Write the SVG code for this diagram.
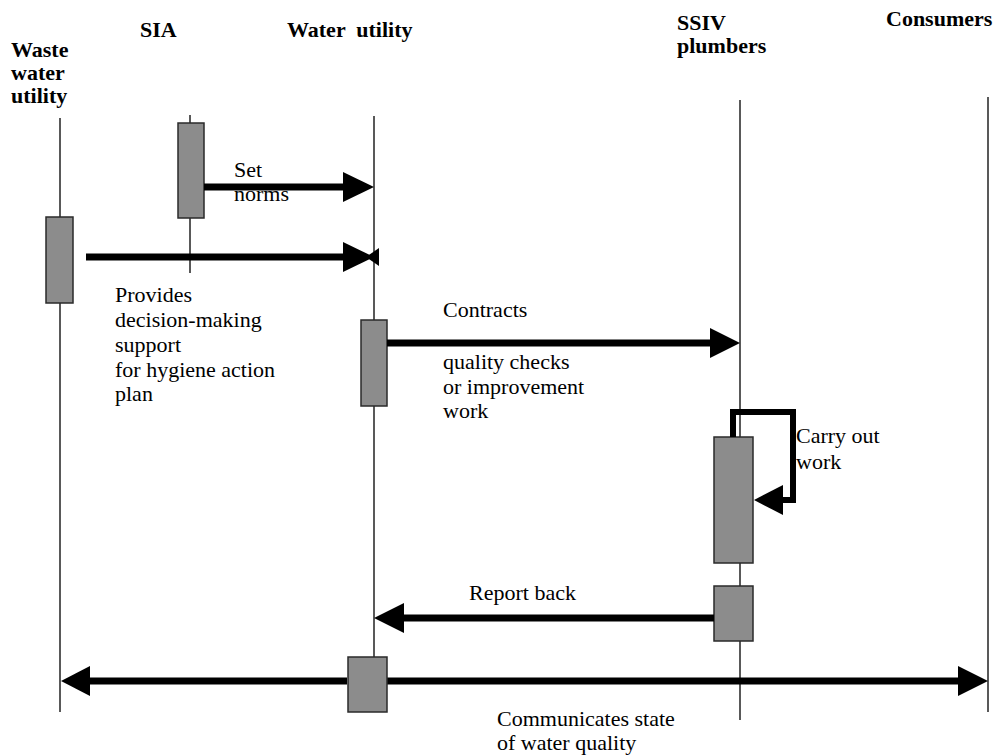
<svg xmlns="http://www.w3.org/2000/svg" width="997" height="755" viewBox="0 0 997 755">
<defs>
<style>
.life{stroke:#222;stroke-width:1.5;fill:none}
.act{fill:#8c8c8c;stroke:#2a2a2a;stroke-width:1.5}
.msg{stroke:#000;stroke-width:7;fill:none}
.tip{fill:#000;stroke:none}
</style>
</defs>
<rect width="997" height="755" fill="#fff"/>
<g id="lifelines">
<line class="life" x1="60" y1="118" x2="60" y2="712"/>
<line class="life" x1="190" y1="115" x2="190" y2="273"/>
<line class="life" x1="374" y1="116" x2="374" y2="712"/>
<line class="life" x1="740" y1="100" x2="740" y2="720"/>
<line class="life" x1="988" y1="97" x2="988" y2="712"/>
</g>
<g id="waste-water-utility">
<text x="11" y="57" font-family="Liberation Serif" font-size="22" font-weight="bold">Waste</text>
<text x="11" y="80" font-family="Liberation Serif" font-size="22" font-weight="bold">water</text>
<text x="11" y="103" font-family="Liberation Serif" font-size="22" font-weight="bold">utility</text>
<rect class="act" x="46" y="217" width="27" height="86"/>
</g>
<g id="sia">
<text x="140" y="37" font-family="Liberation Serif" font-size="22" font-weight="bold">SIA</text>
<rect class="act" x="178" y="123" width="26" height="95"/>
</g>
<g id="water-utility">
<text x="287" y="37" font-family="Liberation Serif" font-size="22" font-weight="bold" xml:space="preserve">Water  utility</text>
<rect class="act" x="361" y="320" width="26" height="86"/>
</g>
<g id="ssiv-plumbers">
<text x="677" y="30" font-family="Liberation Serif" font-size="22" font-weight="bold">SSIV</text>
<text x="677" y="53" font-family="Liberation Serif" font-size="22" font-weight="bold">plumbers</text>
<rect class="act" x="714" y="437" width="39" height="126"/>
<rect class="act" x="714" y="586" width="39" height="55"/>
</g>
<g id="consumers">
<text x="886" y="26" font-family="Liberation Serif" font-size="22" font-weight="bold">Consumers</text>
</g>
<g id="connectors">
<line class="msg" x1="204" y1="187" x2="346" y2="187"/>
<polygon class="tip" points="343,172 374,187 343,202"/>
<text x="234" y="177" font-family="Liberation Serif" font-size="22">Set</text>
<text x="234" y="201" font-family="Liberation Serif" font-size="22">norms</text>
<line class="msg" x1="86" y1="257" x2="346" y2="257"/>
<polygon class="tip" points="343,242 374,257 343,272"/>
<polygon class="tip" points="379,248 366,257 379,266"/>
<text x="115" y="302" font-family="Liberation Serif" font-size="22">Provides</text>
<text x="115" y="327" font-family="Liberation Serif" font-size="22">decision-making</text>
<text x="115" y="352" font-family="Liberation Serif" font-size="22">support</text>
<text x="115" y="377" font-family="Liberation Serif" font-size="22">for hygiene action</text>
<text x="115" y="401" font-family="Liberation Serif" font-size="22">plan</text>
<line class="msg" x1="387" y1="343" x2="713" y2="343"/>
<polygon class="tip" points="710,328 740,343 710,358"/>
<text x="443" y="317" font-family="Liberation Serif" font-size="22">Contracts</text>
<text x="443" y="369" font-family="Liberation Serif" font-size="22">quality checks</text>
<text x="443" y="394" font-family="Liberation Serif" font-size="22">or improvement</text>
<text x="443" y="418" font-family="Liberation Serif" font-size="22">work</text>
<polyline class="msg" style="stroke-width:6" points="733,437 733,412 793,412 793,500 780,500"/>
<polygon class="tip" points="783,485 754,500 783,515"/>
<text x="796" y="443" font-family="Liberation Serif" font-size="22">Carry out</text>
<text x="796" y="469" font-family="Liberation Serif" font-size="22">work</text>
<line class="msg" x1="714" y1="618" x2="400" y2="618"/>
<polygon class="tip" points="404,603 374,618 404,633"/>
<text x="469" y="600" font-family="Liberation Serif" font-size="22">Report back</text>
<line class="msg" x1="87" y1="681" x2="347" y2="681"/>
<line class="msg" x1="387" y1="681" x2="961" y2="681"/>
<polygon class="tip" points="90,666 61,681 90,696"/>
<polygon class="tip" points="958,666 988,681 958,696"/>
<text x="497" y="726" font-family="Liberation Serif" font-size="22">Communicates state</text>
<text x="497" y="750" font-family="Liberation Serif" font-size="22">of water quality</text>
</g>
<g id="water-utility-bottom">
<rect class="act" x="348" y="657" width="39" height="55"/>
</g>
</svg>
